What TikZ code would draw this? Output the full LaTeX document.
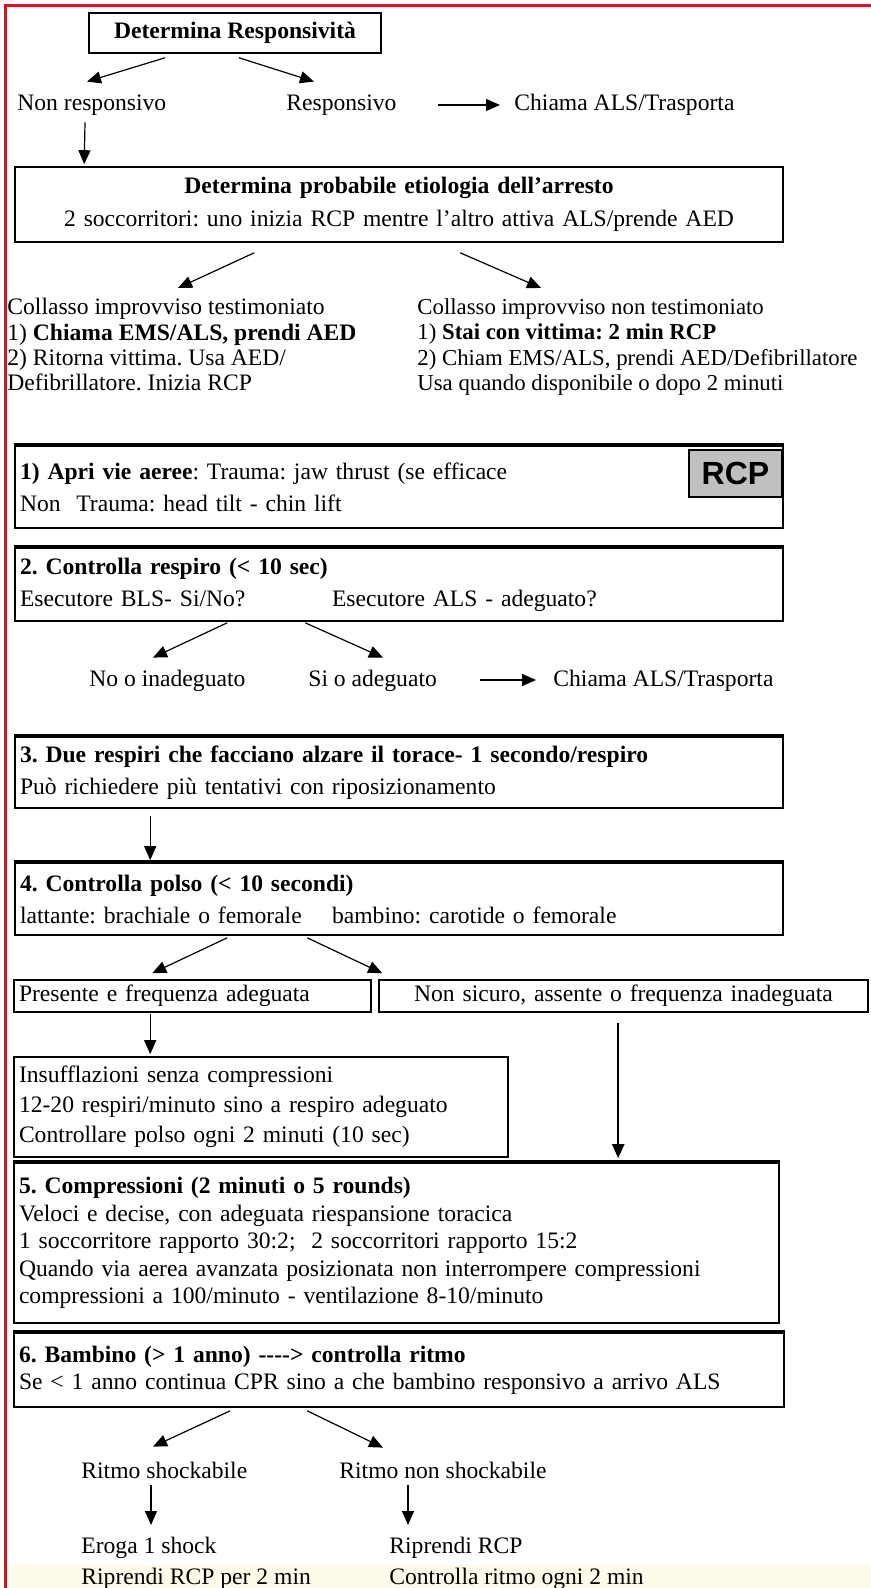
\documentclass[tikz,border=0pt]{standalone}
\usepackage{fontspec}
\setmainfont{Liberation Serif}
\newfontfamily\rcpfont{Liberation Sans}
\usetikzlibrary{arrows.meta,calc}
\definecolor{framered}{RGB}{200,24,36}
\definecolor{rcpgray}{RGB}{192,192,192}
\definecolor{bandyellow}{RGB}{255,251,235}
\tikzset{
  cbox/.style={draw, line width=0.8pt, inner xsep=2.5pt, inner ysep=0pt, align=left, font=\fontsize{11.8}{#1}\selectfont},
  cbox/.default=16,
  lbl/.style={inner sep=0pt, anchor=west, text height=8.5pt, text depth=2.5pt},
  col/.style={inner sep=0pt, anchor=north west, align=left, font=\fontsize{11.8}{#1}\selectfont},
  col/.default=12.7,
  arr/.style={-{Triangle[length=7pt,width=6pt]}, line width=0.6pt},
  topbar/.style={line width=1.8pt},
}

\begin{document}
\frenchspacing
\fontsize{11.8}{14}\selectfont
\begin{tikzpicture}[x=0.5pt, y=-0.5pt]
  \useasboundingbox (0,0) rectangle (871,1588);
  \fill[bandyellow] (6,1565) rectangle (871,1588);
  \draw[framered, line width=1.5pt] (5,1588) -- (5,6) -- (871,6);

  \node[cbox, align=center, minimum width=146pt, minimum height=20pt] (resp0) at (235,33) {\textbf{Determina Responsività}};
  \node[lbl] (nonresp) at (17,105) {Non responsivo};
  \node[lbl] (resp) at (286,105) {Responsivo};
  \node[lbl] (call1) at (514,105) {Chiama ALS/Trasporta};
  \node[cbox=16.5, align=center, text width=379pt, minimum height=37.5pt] (etio) at (399,204.5) {\textbf{Determina probabile etiologia dell'arresto}\\2 soccorritori: uno inizia RCP mentre l'altro attiva ALS/prende AED};
  \node[col] (witn) at (7,298) {Collasso improvviso testimoniato\\1) \textbf{Chiama EMS/ALS, prendi AED}\\2) Ritorna vittima. Usa AED/\\Defibrillatore. Inizia RCP};
  \node[col, font=\fontsize{11.4}{12.7}\selectfont] (unwitn) at (417,298) {Collasso improvviso non testimoniato\\1) \textbf{Stai con vittima: 2 min RCP}\\2) Chiam EMS/ALS, prendi AED/Defibrillatore\\Usa quando disponibile o dopo 2 minuti};

  \node[cbox, text width=379pt, minimum height=41pt] (airway) at (399,487) {\textbf{1) Apri vie aeree}: Trauma: jaw thrust (se efficace\\Non~~Trauma: head tilt - chin lift};
  \node[draw, line width=0.8pt, fill=rcpgray, minimum width=46.5pt, minimum height=23.5pt, inner sep=0pt, font=\rcpfont\fontsize{16}{16}\selectfont\bfseries] (rcp) at (735.5,473.5) {RCP};
  \node[cbox, text width=379pt, minimum height=36.5pt] (breath) at (399,584.5) {\textbf{2. Controlla respiro (< 10 sec)}\\\makebox[156pt][l]{Esecutore BLS- Si/No?}Esecutore ALS - adeguato?};
  \node[lbl] (nobreath) at (89,680) {No o inadeguato};
  \node[lbl] (yesbreath) at (308,680) {Si o adeguato};
  \node[lbl] (call2) at (553,680) {Chiama ALS/Trasporta};
  \node[cbox, text width=379pt, minimum height=35.5pt] (rescue) at (399,772.5) {\textbf{3. Due respiri che facciano alzare il torace- 1 secondo/respiro}\\Può richiedere più tentativi con riposizionamento};
  \node[cbox, text width=379pt, minimum height=36pt] (pulse) at (399,899) {\textbf{4. Controlla polso (< 10 secondi)}\\\makebox[156pt][l]{lattante: brachiale o femorale}bambino: carotide o femorale};
  \node[cbox, text width=173.5pt, minimum height=16pt] (present) at (192.5,996) {Presente e frequenza adeguata};
  \node[cbox, align=center, text width=239.5pt, minimum height=16pt] (absent) at (623.5,996) {Non sicuro, assente o frequenza inadeguata};
  \node[cbox=15, text width=242pt, minimum height=50pt] (insuffl) at (261,1107) {Insufflazioni senza compressioni\\12-20 respiri/minuto sino a respiro adeguato\\Controllare polso ogni 2 minuti (10 sec)};
  \node[cbox=13.75, text width=377.5pt, minimum height=80pt] (compr) at (396.5,1243) {\textbf{5. Compressioni (2 minuti o 5 rounds)}\\Veloci e decise, con adeguata riespansione toracica\\1 soccorritore rapporto 30:2;~ 2 soccorritori rapporto 15:2\\Quando via aerea avanzata posizionata non interrompere compressioni\\compressioni a 100/minuto - ventilazione 8-10/minuto};
  \node[cbox=13.5, text width=380pt, minimum height=37pt] (rhythm) at (399,1370) {\textbf{6. Bambino (> 1 anno) -{}-{}-{}-> controlla ritmo}\\Se < 1 anno continua CPR sino a che bambino responsivo a arrivo ALS};
  \node[lbl] (shock) at (81,1472) {Ritmo shockabile};
  \node[lbl] (noshock) at (339,1472) {Ritmo non shockabile};
  \node[col=15.5] (shockact) at (81,1537) {Eroga 1 shock\\Riprendi RCP per 2 min};
  \node[col=15.5] (noshockact) at (389,1537) {Riprendi RCP\\Controlla ritmo ogni 2 min};

  \foreach \b in {airway,breath,rescue,pulse,compr,rhythm}
    \draw[topbar] (\b.north west) -- (\b.north east);

  \draw[arr] ($(resp0.south)+(-70,4)$) -- ($(nonresp.north west)+(70,-12)$);
  \draw[arr] ($(resp0.south)+(4,4)$) -- ($(resp.north west)+(28,-12)$);
  \draw[arr, shorten <=20.5pt, shorten >=7pt] (resp.east) -- (call1.west);
  \draw[arr] ($(nonresp.south west)+(68,6)$) -- ($(etio.north west)+(70,-2)$);
  \draw[arr] ($(etio.south west)+(240,10)$) -- ($(witn.north west)+(171,-10)$);
  \draw[arr] ($(etio.south west)+(446,10)$) -- ($(unwitn.north west)+(124,-10)$);
  \draw[arr] ($(breath.south west)+(213,1)$) -- ($(nobreath.north west)+(64,-11)$);
  \draw[arr] ($(breath.south west)+(291,1)$) -- ($(yesbreath.north west)+(75,-11)$);
  \draw[arr, shorten <=21.5pt, shorten >=8.5pt] (yesbreath.east) -- (call2.west);
  \draw[arr] ($(rescue.south west)+(136,7)$) -- ($(pulse.north west)+(136,-2)$);
  \draw[arr] ($(pulse.south west)+(213,2)$) -- ($(present.north west)+(139,-6)$);
  \draw[arr] ($(pulse.south west)+(293,2)$) -- ($(absent.north west)+(4,-6)$);
  \draw[arr] ($(present.south west)+(137,1)$) -- ($(insuffl.north west)+(137,-2)$);
  \draw[arr, line width=1.1pt] ($(absent.south west)+(240,10)$) -- ($(compr.north west)+(605,-4)$);
  \draw[arr] ($(rhythm.south west)+(217,3)$) -- ($(shock.north west)+(72,-14)$);
  \draw[arr] ($(rhythm.south west)+(294,3)$) -- ($(noshock.north west)+(44,-13)$);
  \draw[arr] ($(shock.south west)+(70,2)$) -- ($(shockact.north west)+(70,-12)$);
  \draw[arr] ($(noshock.south west)+(69,2)$) -- ($(noshockact.north west)+(19,-12)$);
\end{tikzpicture}
\end{document}
